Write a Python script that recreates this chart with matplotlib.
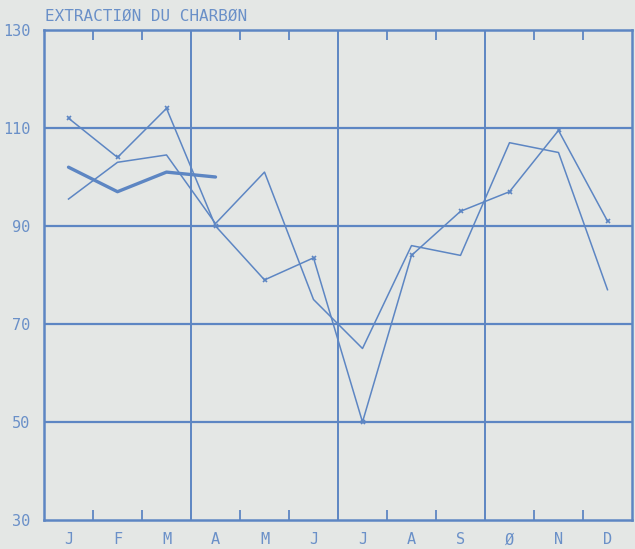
import matplotlib
matplotlib.use("Agg")
import matplotlib.pyplot as plt
import numpy as np

months = ["J", "F", "M", "A", "M", "J", "J", "A", "S", "Ø", "N", "D"]
yticks = [30, 50, 70, 90, 110, 130]

# series
marked = [112, 104, 114, 90, 79, 83.5, 50, 84, 93, 97, 109.5, 91]
plain = [95.5, 103, 104.5, 90.5, 101, 75, 65, 86, 84, 107, 105, 77]
thick = [102, 97, 101, 100]

blue = "#5d86c3"
txt = "#6a90c8"
bg = "#e4e7e5"

fig = plt.figure(figsize=(6.35, 5.49), dpi=100, facecolor=bg)
ax = fig.add_axes([44/635, 1 - 520/549, 588/635, 490/549], facecolor=bg)

x = np.arange(12) + 0.5
ax.plot(x, marked, color=blue, lw=1.1, marker="x", ms=3.5, mew=1.2)
ax.plot(x, plain, color=blue, lw=1.1)
ax.plot(x[:len(thick)], thick, color=blue, lw=2.4, solid_capstyle="round")

ax.set_xlim(0, 12)
ax.set_ylim(30, 130)

for v in [3, 6, 9]:
    ax.axvline(v, color=blue, lw=1.4)
for v in [50, 70, 90, 110]:
    ax.axhline(v, color=blue, lw=1.6)

for s in ax.spines.values():
    s.set_color(blue)
    s.set_linewidth(1.8)

ax.set_xticks(x)
ax.set_xticklabels(months, family="DejaVu Sans Mono", fontsize=11, color=txt)
ax.set_xticks([1, 2, 4, 5, 7, 8, 10, 11], minor=True)
ax.tick_params(axis="x", which="major", length=0, pad=9)
ax.tick_params(axis="x", which="minor", direction="in", length=7, width=1.3,
               color=blue, top=True, bottom=True)

ax.set_yticks(yticks)
ax.set_yticklabels([str(v) for v in yticks], family="DejaVu Sans Mono",
                   fontsize=11, color=txt)
ax.tick_params(axis="y", length=0, pad=10)

fig.text(45/635, 1 - 16/549, "EXTRACTIØN DU CHARBØN", family="DejaVu Sans Mono",
         fontsize=11.5, color=txt, va="center", ha="left")

fig.savefig("out.png", dpi=100, facecolor=bg)
